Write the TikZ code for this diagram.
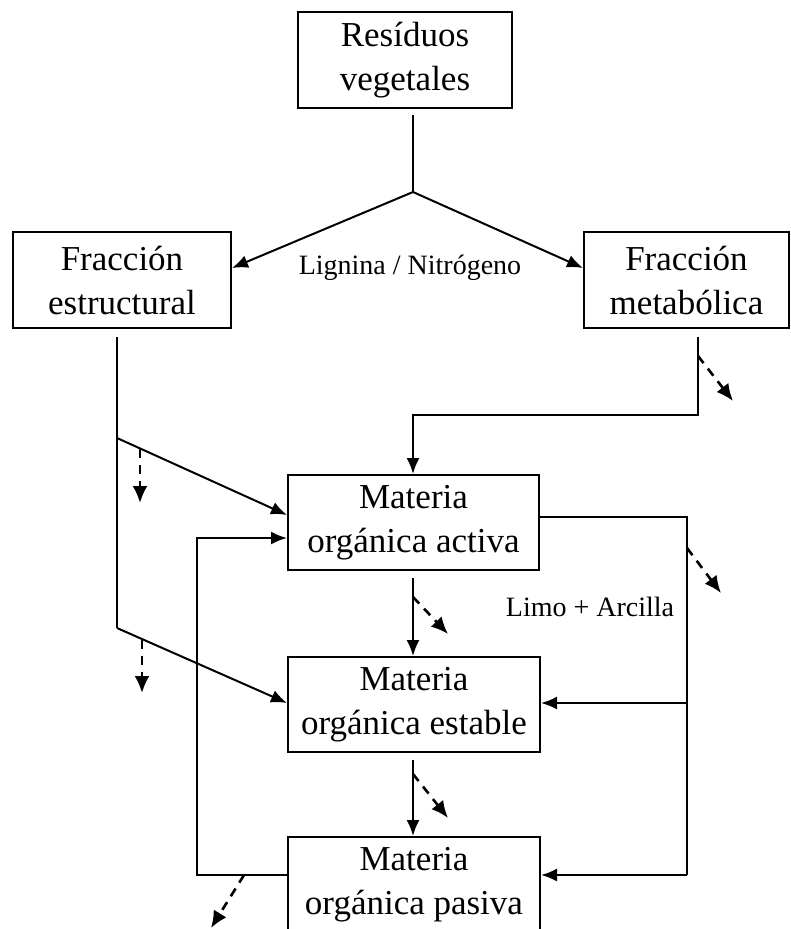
\documentclass[tikz,border=0pt]{standalone}
\usepackage{fontspec}
\setmainfont{Liberation Serif}
\usetikzlibrary{arrows.meta,calc}
\begin{document}
\begin{tikzpicture}[x=1pt,y=-1pt,
  box/.style={draw, line width=2pt, align=center, inner sep=0pt, font=\fontsize{35}{44}\selectfont},
  flow/.style={line width=2pt, -{Latex[length=16pt,width=13pt]}},
  conn/.style={line width=2pt},
  loss/.style={line width=2.6pt, dash pattern=on 9pt off 7pt, -{Latex[length=17pt,width=15pt]}},
  lbl/.style={font=\fontsize{28}{32}\selectfont, inner sep=0pt}]
\useasboundingbox (0,0) rectangle (790,929);
% boxes
\node[box, minimum width=214pt, minimum height=96pt] (res) at (405,60) {Resíduos\\vegetales};
\node[box, minimum width=218pt, minimum height=96pt] (est) at (122,280) {Fracción\\estructural};
\node[box, minimum width=205pt, minimum height=96pt] (met) at (686.5,280) {Fracción\\metabólica};
\node[box, minimum width=251pt, minimum height=95pt] (moa) at (413.5,522.5) {Materia\\orgánica activa};
\node[box, minimum width=252pt, minimum height=95pt] (moe) at (414,704.5) {Materia\\orgánica estable};
\node[box, minimum width=252pt, minimum height=95pt] (mop) at (414,884.5) {Materia\\orgánica pasiva};
% labels
\node[lbl] (ln) at (410,268) {Lignina / Nitrógeno};
\node[lbl] (la) at (590,607) {Limo + Arcilla};
% junction coordinates
\coordinate (rtop) at (413,115);
\coordinate (apex) at (413,192);
\coordinate (etop) at (117,337);
\coordinate (e1) at (117,438);
\coordinate (e2) at (117,628);
\coordinate (mtop) at (698,337);
\coordinate (m1) at (698,415);
\coordinate (m2) at (413,415);
\coordinate (a1) at (413,578);
\coordinate (s1) at (413,760);
\coordinate (r1) at (687,517);
\coordinate (r2) at (687,703);
\coordinate (r3) at (687,875);
\coordinate (l1) at (197,875);
\coordinate (l2) at (197,538);
% top split
\draw[conn] (rtop) -- (apex);
\draw[flow] (apex) -- ([yshift=12pt]est.east);
\draw[flow] (apex) -- ([yshift=12pt]met.west);
% structural fraction
\draw[conn] (etop) -- (e2);
\draw[flow] (e1) -- ([yshift=7.5pt]moa.west);
\draw[flow] (e2) -- ([yshift=1.5pt]moe.west);
% metabolic fraction
\draw[flow] (mtop) -- (m1) -- (m2) -- (m2 |- moa.north);
% cascade
\draw[flow] (a1) -- (a1 |- moe.north);
\draw[flow] (s1) -- (s1 |- mop.north);
% right loop
\draw[conn] (moa.east |- r1) -- (r1) -- (r3);
\draw[flow] (r3) -- (r3 -| mop.east);
\draw[flow] (r2) -- (r2 -| moe.east);
% left loop
\draw[flow] (mop.west |- l1) -- (l1) -- (l2) -- (l2 -| moa.west);
% losses
\coordinate (d1s) at (140,449);  \coordinate (d1e) at (140,503);
\coordinate (d2s) at (142,640);  \coordinate (d2e) at (142,693);
\coordinate (d3s) at (698,356);  \coordinate (d3e) at (733,401);
\coordinate (d4s) at (687,548);  \coordinate (d4e) at (721,593);
\coordinate (d5s) at (413,597);  \coordinate (d5e) at (448,634);
\coordinate (d6s) at (413,774);  \coordinate (d6e) at (448,818);
\coordinate (d7s) at (244,875);  \coordinate (d7e) at (211,928);
\draw[loss] (d1s) -- (d1e);
\draw[loss] (d2s) -- (d2e);
\draw[loss] (d3s) -- (d3e);
\draw[loss] (d4s) -- (d4e);
\draw[loss] (d5s) -- (d5e);
\draw[loss] (d6s) -- (d6e);
\draw[loss] (d7s) -- (d7e);
\end{tikzpicture}
\end{document}
